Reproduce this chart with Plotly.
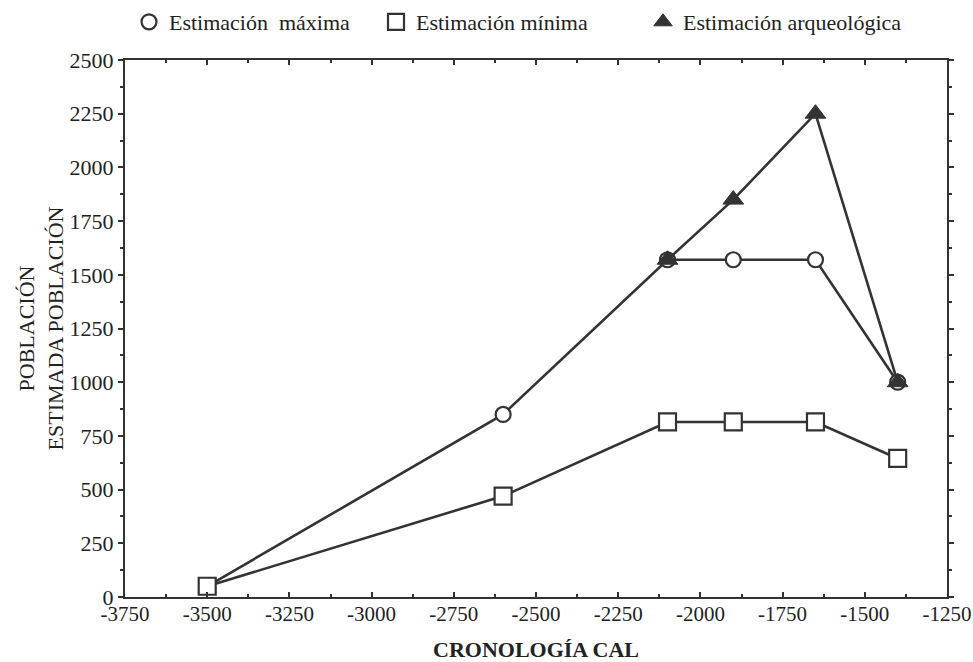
import plotly.graph_objects as go

years_max = [-3500, -2600, -2100, -1900, -1650, -1400]
est_max = [50, 850, 1570, 1570, 1570, 1000]

years_min = [-3500, -2600, -2100, -1900, -1650, -1400]
est_min = [50, 470, 815, 815, 815, 645]

years_arq = [-2100, -1900, -1650, -1400]
est_arq = [1570, 1850, 2250, 1000]

x_ticks = [-3750, -3500, -3250, -3000, -2750, -2500, -2250, -2000, -1750, -1500, -1250]
y_ticks = [0, 250, 500, 750, 1000, 1250, 1500, 1750, 2000, 2250, 2500]

INK = "#333333"
FONT = "Liberation Serif"
FS = 22
TFS = 21
W, H = 973, 662

m_max = dict(symbol="circle", size=15, color="white", line=dict(color=INK, width=2.2))
m_min = dict(symbol="square", size=17, color="white", line=dict(color=INK, width=2.2))
m_arq = dict(symbol="triangle-up", size=18, color=INK, line=dict(color=INK, width=1))

fig = go.Figure()
fig.add_trace(go.Scatter(x=years_max, y=est_max, mode="lines+markers", showlegend=False,
                         line=dict(color=INK, width=2.6), marker=m_max))
fig.add_trace(go.Scatter(x=years_min, y=est_min, mode="lines+markers", showlegend=False,
                         line=dict(color=INK, width=2.6), marker=m_min))
fig.add_trace(go.Scatter(x=years_arq, y=est_arq, mode="lines+markers", showlegend=False,
                         line=dict(color=INK, width=2.6), marker=m_arq))

# legend-only entries (marker symbol only, like the reference key)
fig.add_trace(go.Scatter(x=[None], y=[None], mode="markers", name="Estimación  máxima",
                         marker=m_max, legend="legend"))
fig.add_trace(go.Scatter(x=[None], y=[None], mode="markers", name="Estimación mínima",
                         marker=m_min, legend="legend2"))
fig.add_trace(go.Scatter(x=[None], y=[None], mode="markers", name="Estimación arqueológica",
                         marker=m_arq, legend="legend3"))

leg_common = dict(orientation="h", yref="container", y=1 - 22 / H, yanchor="middle",
                  xref="container", xanchor="left", font=dict(size=FS, family=FONT, color="#222"),
                  bgcolor="rgba(0,0,0,0)", itemwidth=30)

fig.update_layout(
    width=W, height=H,
    margin=dict(l=125, r=26, t=60, b=65, autoexpand=False),
    paper_bgcolor="white", plot_bgcolor="white",
    font=dict(family=FONT, size=FS, color="#222"),
    legend=dict(x=129 / W, **leg_common),
    legend2=dict(x=376 / W, **leg_common),
    legend3=dict(x=643 / W, **leg_common),
    xaxis=dict(range=[-3750, -1250], tickvals=x_ticks,
               ticktext=[str(v) for v in x_ticks], tickfont=dict(size=TFS),
               ticklabelstandoff=-3,
               showgrid=False, zeroline=False, showline=True, linecolor=INK, linewidth=2,
               mirror="ticks", ticks="inside", ticklen=5, tickcolor=INK, tickwidth=1.5,
               minor=dict(dtick=125, ticks="inside", ticklen=3, tickcolor=INK),
               title=dict(text="<b>CRONOLOGÍA CAL</b>", font=dict(size=FS), standoff=16)),
    yaxis=dict(range=[0, 2500], tickvals=y_ticks,
               ticktext=[str(v) for v in y_ticks], tickfont=dict(size=FS),
               showgrid=False, zeroline=False, showline=True, linecolor=INK, linewidth=2,
               mirror="ticks", ticks="outside", ticklen=5, tickcolor=INK, tickwidth=1.5,
               minor=dict(dtick=125, ticks="outside", ticklen=3, tickcolor=INK),
               title=dict(text="POBLACIÓN<br>ESTIMADA POBLACIÓN", font=dict(size=FS), standoff=0)),
)

fig.write_html(
    "out.html",
    config={"displayModeBar": False},
    post_script="document.body.style.margin='0';document.documentElement.style.overflow='hidden';",
)
